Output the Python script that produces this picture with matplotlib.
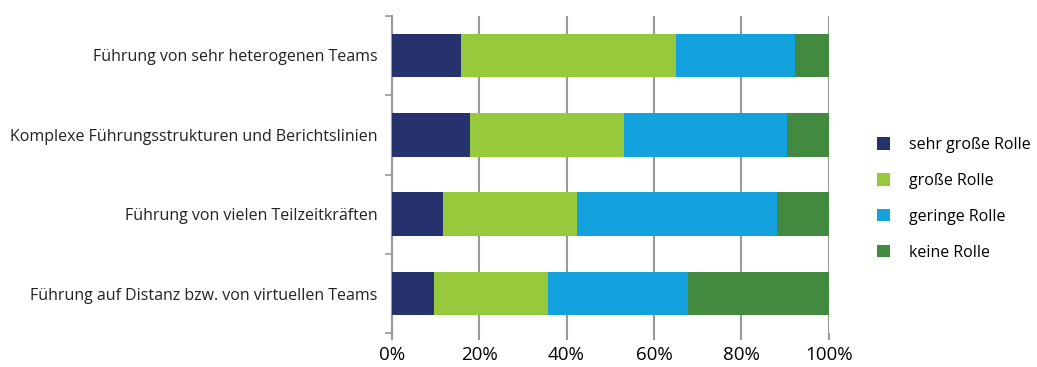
import numpy as np
import matplotlib.pyplot as plt

plt.rcParams['font.family'] = ['Open Sans', 'DejaVu Sans']

categories = ['Führung von sehr heterogenen Teams',
              'Komplexe Führungsstrukturen und Berichtslinien',
              'Führung von vielen Teilzeitkräften',
              'Führung auf Distanz bzw. von virtuellen Teams']
series = ['sehr große Rolle', 'große Rolle', 'geringe Rolle', 'keine Rolle']
sehr_gross = [15.9, 17.9, 11.8, 9.7]
gross = [49.2, 35.2, 30.5, 26.1]
gering = [27.3, 37.3, 45.8, 32.1]
keine = [7.6, 9.6, 11.9, 32.1]
colors = ['#26326e', '#97c93d', '#13a2dd', '#418a40']

fig = plt.figure(figsize=(10.37, 3.67), dpi=100)
ax = fig.add_axes([391.7 / 1037, 1 - 333.3 / 367, 437 / 1037, 317.6 / 367])

y_pos = np.arange(len(categories))[::-1]
left = np.zeros(len(categories))
for vals, name, col in zip([sehr_gross, gross, gering, keine], series, colors):
    ax.barh(y_pos, vals, 0.55, left=left, color=col, label=name, zorder=3)
    left += np.array(vals)

ax.set_xlim(0, 100)
ax.set_ylim(-0.5, len(categories) - 0.5)
ax.set_xticks(np.arange(0, 101, 20))
ax.set_xticklabels(['%d%%' % v for v in range(0, 101, 20)], fontsize=13.5)
ax.set_yticks(y_pos)
ax.set_yticklabels(categories, fontsize=11.5, color='#222222')
ax.set_yticks(np.arange(-0.5, len(categories), 1), minor=True)
ax.tick_params(axis='y', which='major', length=0, pad=10)
ax.tick_params(axis='y', which='minor', length=5, color='#999999', width=1.2)
ax.tick_params(axis='x', length=5, color='#999999', width=1.5, pad=4)
ax.xaxis.grid(True, color='#999999', linewidth=1.5, zorder=0)
for s in ['top', 'right', 'bottom']:
    ax.spines[s].set_visible(False)
ax.spines['left'].set_color('#999999')
ax.spines['left'].set_linewidth(1.5)

ax.legend(loc='center left', bbox_to_anchor=(1.077, 0.423), frameon=False,
          fontsize=11.5, handlelength=0.8, handleheight=0.8,
          labelspacing=1.25, handletextpad=1.2)

fig.savefig('out.png', dpi=100)
